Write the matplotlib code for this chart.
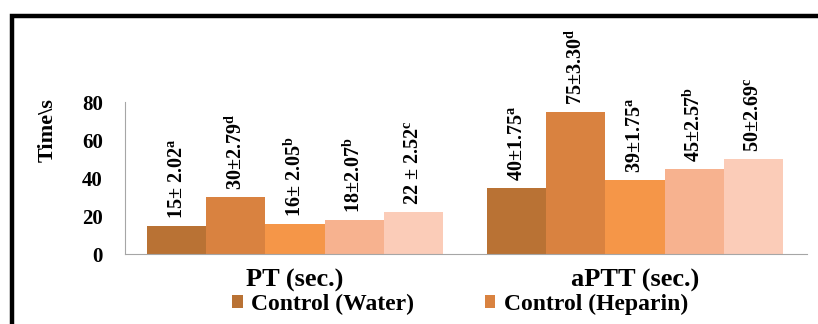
import matplotlib.pyplot as plt
import matplotlib.patches as patches
import numpy as np

plt.rcParams['font.family'] = ['Liberation Serif', 'DejaVu Serif']
plt.rcParams['mathtext.fontset'] = 'custom'
plt.rcParams['mathtext.rm'] = 'Liberation Serif:bold'
plt.rcParams['mathtext.default'] = 'rm'

# data
categories = ["PT (sec.)", "aPTT (sec.)"]
values = [
    [15, 35],
    [30, 75],
    [16, 39],
    [18, 45],
    [22, 50],
]
bar_labels = [
    [r"15± 2.02$^{a}$", r"40±1.75$^{a}$"],
    [r"30±2.79$^{d}$", r"75±3.30$^{d}$"],
    [r"16± 2.05$^{b}$", r"39±1.75$^{a}$"],
    [r"18±2.07$^{b}$", r"45±2.57$^{b}$"],
    [r"22 ± 2.52$^{c}$", r"50±2.69$^{c}$"],
]
legend_labels = ["Control (Water)", "Control (Heparin)"]
colors = ["#B97234", "#D98240", "#F59648", "#F7B28F", "#FBCCB8"]

fig = plt.figure(figsize=(8.18, 3.24), dpi=100)
ax = fig.add_axes([125/818, 1-254/324, 682/818, 152/324])

x = np.arange(len(categories))
w = 0.174
bars = []
for i in range(len(values)):
    b = ax.bar(x + (i - 2) * w, values[i], width=w, color=colors[i])
    bars.append(b)
    for j, rect in enumerate(b):
        ax.annotate(bar_labels[i][j],
                    (rect.get_x() + rect.get_width() / 2, rect.get_height()),
                    xytext=(0, 5), textcoords="offset points",
                    rotation=90, ha="center", va="bottom",
                    fontsize=14.5, fontweight="bold")

ax.set_xlim(-0.5, 1.506)
ax.set_ylim(0, 80)
ax.set_yticks([0, 20, 40, 60, 80])
ax.set_xticks(x)
ax.set_xticklabels(categories, fontsize=19, fontweight="bold")
for lab in ax.get_yticklabels():
    lab.set_fontsize(15)
    lab.set_fontweight("bold")
ax.tick_params(axis="y", length=0, pad=16)
ax.tick_params(axis="x", length=0, pad=11)
ax.spines["top"].set_visible(False)
ax.spines["right"].set_visible(False)
ax.spines["left"].set_color("#A6A6A6")
ax.spines["bottom"].set_color("#A6A6A6")

fig.text(48/818, 1-130/324, "Time\\s", rotation=90, ha="center", va="center",
         fontsize=16, fontweight="bold")

fig.legend([bars[0], bars[1]], legend_labels, loc="center",
           bbox_to_anchor=(460/818, 1-304/324), ncol=2, frameon=False,
           prop={"size": 17, "weight": "bold"}, handlelength=0.45,
           handleheight=0.45, handletextpad=0.35, columnspacing=3.0,
           borderpad=0)

# black frame, right and bottom edges fall outside the picture
frame = patches.Rectangle((12/818, -0.2), 1.0, 1.2 - 16/324, transform=fig.transFigure,
                          fill=False, edgecolor="black", linewidth=3.2, clip_on=False)
fig.patches.append(frame)

plt.savefig("out.png", dpi=100)
